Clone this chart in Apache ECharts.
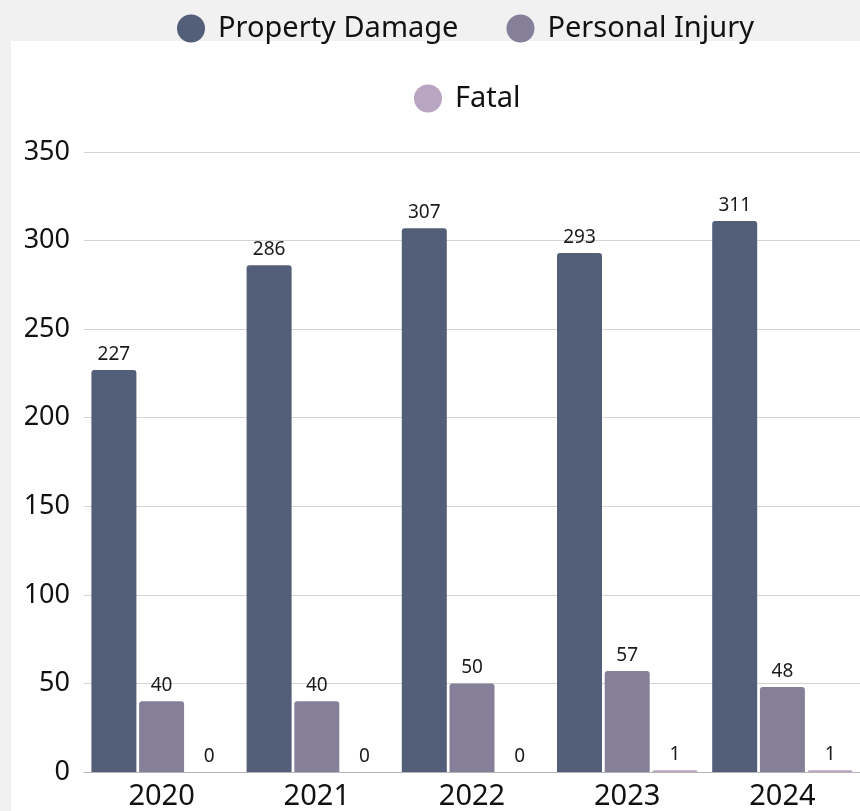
<!DOCTYPE html>
<html>
<head>
<meta charset="utf-8">
<script src="https://cdn.jsdelivr.net/npm/echarts@6/dist/echarts.min.js"></script>
<style>
  html, body { margin: 0; padding: 0; }
  #chart { width: 860px; height: 811px; }
</style>
</head>
<body>
<div id="chart"></div>
<script>
// data
var years = ['2020', '2021', '2022', '2023', '2024'];
var propertyDamage = [227, 286, 307, 293, 311];
var personalInjury = [40, 40, 50, 57, 48];
var fatal = [0, 0, 0, 1, 1];
var yTicks = [0, 50, 100, 150, 200, 250, 300, 350];

var font = '"Noto Sans", "Open Sans", sans-serif';

function barSeries(name, data, color) {
  return {
    name: name,
    type: 'bar',
    data: data,
    barWidth: 45,
    barGap: '6%',
    itemStyle: { color: color, borderRadius: [3, 3, 0, 0] },
    label: {
      show: true,
      position: 'top',
      distance: 6,
      color: '#1a1a1a',
      fontSize: 19,
      fontFamily: font
    }
  };
}

var legendText = { fontSize: 29, color: '#111', fontFamily: font, padding: [0, 0, 0, 8] };

var chart = echarts.init(document.getElementById('chart'));
chart.setOption({
  backgroundColor: '#f1f1f1',
  animation: false,
  graphic: [
    // white panel behind plot
    { type: 'rect', left: 11, top: 41, shape: { width: 860, height: 780 }, style: { fill: '#ffffff' }, z: -10 }
  ],
  legend: [
    {
      data: ['Property Damage', 'Personal Injury'],
      top: 9,
      left: 172,
      icon: 'circle',
      itemWidth: 28,
      itemHeight: 28,
      itemGap: 48,
      textStyle: legendText
    },
    {
      data: ['Fatal'],
      top: 79,
      left: 409,
      icon: 'circle',
      itemWidth: 28,
      itemHeight: 28,
      textStyle: legendText
    }
  ],
  grid: { left: 84, right: 0, top: 152, bottom: 39 },
  xAxis: {
    type: 'category',
    data: years,
    axisTick: { show: false },
    axisLine: { lineStyle: { color: '#b5b5b5', width: 1 } },
    axisLabel: { color: '#111', fontSize: 29, fontFamily: font, margin: 10 }
  },
  yAxis: {
    type: 'value',
    min: yTicks[0],
    max: yTicks[yTicks.length - 1],
    interval: 50,
    axisLine: { show: false },
    axisTick: { show: false },
    splitLine: { lineStyle: { color: '#d4d4d4', width: 1 } },
    axisLabel: { color: '#111', fontSize: 27, fontFamily: font, margin: 14 }
  },
  series: [
    barSeries('Property Damage', propertyDamage, '#535e78'),
    barSeries('Personal Injury', personalInjury, '#867f99'),
    barSeries('Fatal', fatal, '#b9a4c1')
  ]
});
</script>
</body>
</html>
